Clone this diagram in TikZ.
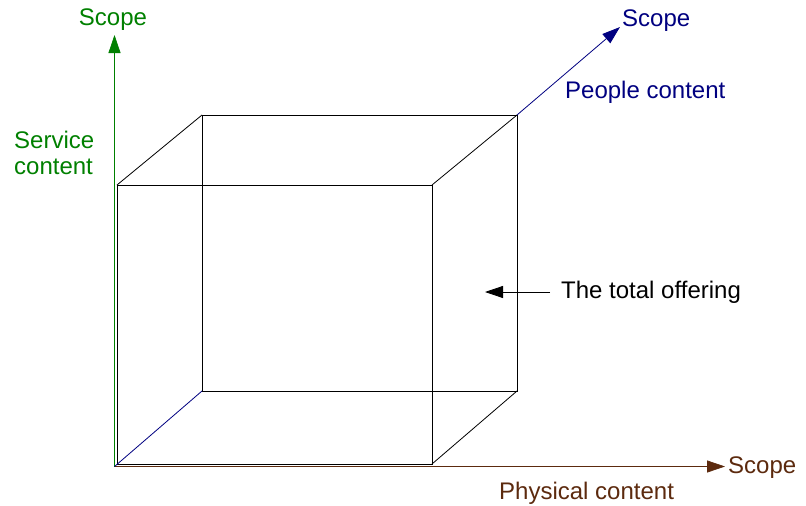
\documentclass[tikz,border=0pt]{standalone}
\usepackage{fontspec}
\setmainfont{Liberation Sans}
\usetikzlibrary{arrows.meta, positioning}
\definecolor{scopegreen}{HTML}{008000}
\definecolor{peopleblue}{HTML}{000080}
\definecolor{physbrown}{HTML}{5C2A0E}

\begin{document}
\begin{tikzpicture}[x=1pt, y=-1pt,
  font=\fontsize{24}{26}\selectfont,
  edge/.style={draw=black, line width=0.8pt},
  ax/.style={-{Triangle[length=18pt,width=12pt]}, line width=0.8pt},
  lbl/.style={inner sep=0pt, anchor=west}]
\useasboundingbox (0,0) rectangle (806,506);
% cube corners: front face, back face
\coordinate (ftl) at (117,185); \coordinate (ftr) at (432,185);
\coordinate (fbr) at (432,464); \coordinate (fbl) at (117,464);
\coordinate (btl) at (202,115); \coordinate (btr) at (517,115);
\coordinate (bbr) at (517,391); \coordinate (bbl) at (202,391);
% axes
\coordinate (O) at (114.5,466.5);
\coordinate (ytip) at (114.5,35); \coordinate (xtip) at (725,466.5);
\coordinate (ztip) at (620,27); \coordinate (offtip) at (485,292);
\draw[edge] (ftl) -- (ftr) -- (fbr) -- (fbl) -- cycle;
\draw[edge] (btl) -- (btr) -- (bbr) -- (bbl) -- cycle;
\draw[edge] (ftl) -- (btl); \draw[edge] (ftr) -- (btr); \draw[edge] (fbr) -- (bbr);
\draw[ax, scopegreen] (O) -- (ytip);
\draw[ax, physbrown] (O) -- (xtip);
\draw[peopleblue, line width=0.8pt] (O) -- (bbl);
\draw[ax, peopleblue] (btr) -- (ztip);
% labels
\node[scopegreen, inner sep=0pt] (gscope) at (113,20) {Scope};
\node[lbl, scopegreen, align=left] (service) at (14,153) {Service\\content};
\node[lbl, peopleblue] (bscope) at (622,21) {Scope};
\node[lbl, peopleblue] (people) at (565,92) {People content};
\node[lbl] (offer) at (561,292) {The total offering};
\node[lbl, physbrown] (rscope) at (728,468) {Scope};
\node[lbl, physbrown] (phys) at (499,493) {Physical content};
\draw[ax, shorten <=11pt] (offer.west) -- (offtip);
\end{tikzpicture}
\end{document}
